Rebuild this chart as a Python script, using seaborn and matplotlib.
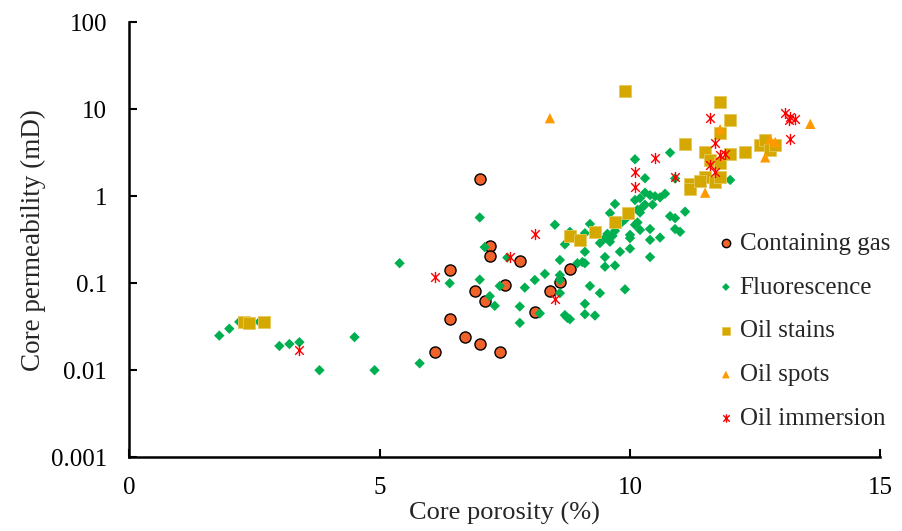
import numpy as np
import pandas as pd
import matplotlib
matplotlib.use("Agg")
import matplotlib.pyplot as plt
from matplotlib.path import Path
import seaborn as sns

# ── Data ─────────────────────────────────────────────────────────────────────

gas_x = [7.0, 7.2, 7.2, 6.4, 7.8, 7.5, 6.9, 7.1, 6.4, 6.7, 7.0, 6.1, 7.4,
         8.8, 8.6, 8.4, 8.1]
gas_y = [1.59, 0.27, 0.204, 0.143, 0.182, 0.095, 0.081, 0.063, 0.039, 0.024,
         0.020, 0.016, 0.016, 0.146, 0.104, 0.082, 0.047]

fluo_x = [1.8, 2.0, 2.2, 2.6, 3.0, 3.2, 3.4, 3.8, 4.5, 4.9, 5.4, 5.8, 6.4,
          7.0, 7.0, 7.1, 7.2, 7.3, 7.4, 7.55, 7.8, 7.8,
          7.9, 8.1, 8.2, 8.3, 8.5, 8.6, 8.6, 8.6, 8.6, 8.7, 8.7, 8.75, 8.8,
          8.8, 8.95, 9.05, 9.1, 9.1, 9.1, 9.1, 9.1, 9.2, 9.2, 9.3, 9.4, 9.4,
          9.5, 9.5, 9.5, 9.55, 9.6, 9.6, 9.65, 9.7, 9.7, 9.7, 9.8, 9.8, 9.9,
          9.9, 10.0, 10.0, 10.0,
          10.1, 10.1, 10.1, 10.15, 10.15, 10.2, 10.2, 10.2, 10.25, 10.3, 10.3,
          10.3, 10.4, 10.4, 10.4, 10.4, 10.45, 10.5, 10.6, 10.6, 10.7, 10.8,
          10.8, 10.9, 10.9, 10.9, 11.0, 11.1, 12.0]
fluo_y = [0.025, 0.030, 0.036, 0.036, 0.019, 0.020, 0.021, 0.010, 0.024,
          0.010, 0.17, 0.012, 0.10,
          0.57, 0.11, 0.26, 0.071, 0.055, 0.093, 0.197, 0.054, 0.035,
          0.089, 0.109, 0.045, 0.128, 0.47, 0.185, 0.124, 0.109, 0.077, 0.28,
          0.043, 0.040, 0.39, 0.0386, 0.17, 0.175, 0.17, 0.376, 0.23, 0.058,
          0.044, 0.48, 0.093, 0.0425, 0.29, 0.077, 0.33, 0.2, 0.155, 0.37,
          0.3, 0.64, 0.35, 0.4, 0.815, 0.16, 0.23, 0.48, 0.54, 0.085, 0.25,
          0.33, 0.36,
          2.66, 0.906, 0.47, 0.7, 0.5, 0.95, 0.65, 0.41, 0.75, 1.61, 1.1, 0.8,
          1.03, 0.42, 0.315, 0.2, 0.8, 1.0, 0.97, 0.335, 1.07, 3.17, 0.59,
          1.6, 0.56, 0.42, 0.39, 0.665, 1.54]

stain_x = [2.3, 2.4, 2.7, 8.8, 9.0, 9.3, 9.7, 9.97, 9.9, 11.1, 11.2, 11.2,
           11.5, 11.5, 11.4, 11.6, 11.7, 11.8, 12.0, 11.8, 11.8, 11.8, 12.0,
           12.3, 12.6, 12.7, 12.8, 12.9]
stain_y = [0.036, 0.035, 0.036, 0.35, 0.31, 0.39, 0.51, 0.64, 16.4, 4.0, 1.4,
           1.2, 3.26, 1.65, 1.5, 2.6, 1.47, 12.0, 7.5, 5.4, 2.4, 1.68, 3.06,
           3.26, 3.9, 4.4, 3.4, 3.9]

spot_x = [8.4, 11.5, 11.8, 12.7, 12.8, 12.9, 13.6]
spot_y = [7.9, 1.1, 5.9, 2.8, 4.5, 4.2, 6.8]

imm_x = [3.4, 6.1, 7.6, 8.1, 8.5, 10.1, 10.1, 10.5, 10.9, 11.6, 11.7, 11.8,
         11.9, 11.6, 11.7, 13.1, 13.2, 13.3, 13.17, 13.2]
imm_y = [0.017, 0.118, 0.2, 0.366, 0.066, 1.92, 1.29, 2.74, 1.65, 7.9, 4.06,
         3.0, 3.1, 2.3, 1.92, 9.0, 8.2, 7.7, 7.5, 4.6]

x_ticks = [0, 5, 10, 15]
y_ticks = [0.001, 0.01, 0.1, 1, 10, 100]
y_tick_labels = ["0.001", "0.01", "0.1", "1", "10", "100"]

# ── Style ────────────────────────────────────────────────────────────────────

sns.set_style("ticks")
plt.rcParams["font.family"] = ["Liberation Serif", "DejaVu Serif"]

# Excel-style asterisk marker: X plus a vertical bar
star = Path(
    [(-1, -1), (1, 1), (-1, 1), (1, -1), (0, -1.3), (0, 1.3)],
    [Path.MOVETO, Path.LINETO, Path.MOVETO, Path.LINETO, Path.MOVETO, Path.LINETO],
)

groups = [
    ("Containing gas", gas_x, gas_y, dict(marker="o", s=64, color="#F0622A",
                                          edgecolor="black", linewidth=1.0)),
    ("Fluorescence", fluo_x, fluo_y, dict(marker="D", s=28, color="#00B050",
                                          edgecolor="none", linewidth=0)),
    ("Oil stains", stain_x, stain_y, dict(marker="s", s=66, color="#D4A800",
                                          edgecolor="#E6C85A", linewidth=0.6)),
    ("Oil spots", spot_x, spot_y, dict(marker="^", s=55, color="#FF9900",
                                       edgecolor="none", linewidth=0)),
    ("Oil immersion", imm_x, imm_y, dict(marker=star, s=65, color="#FF0000",
                                         edgecolor="#FF0000", linewidth=1.0)),
]

fig, ax = plt.subplots(figsize=(9.03, 5.31), dpi=100)
fig.subplots_adjust(left=0.143, right=0.975, top=0.958, bottom=0.139)

for name, xs, ys, kw in groups:
    df = pd.DataFrame({"porosity": xs, "perm": ys})
    sns.scatterplot(data=df, x="porosity", y="perm", ax=ax, label=name, **kw)

ax.set_yscale("log")
ax.set_xlim(0, 15)
ax.set_ylim(0.001, 100)
ax.set_xticks(x_ticks)
ax.set_xticklabels([str(t) for t in x_ticks])
ax.set_yticks(y_ticks)
ax.set_yticklabels(y_tick_labels)
ax.yaxis.set_minor_locator(matplotlib.ticker.NullLocator())

ax.tick_params(axis="both", direction="in", length=6, width=1.5,
               labelsize=18, colors="black")
ax.tick_params(axis="x", pad=14)
ax.tick_params(axis="y", pad=16)
for side in ["left", "bottom"]:
    ax.spines[side].set_linewidth(1.8)
    ax.spines[side].set_color("black")
sns.despine(ax=ax)

ax.set_xlabel("Core porosity (%)", fontsize=19, labelpad=2)
ax.set_ylabel("Core permeability (mD)", fontsize=19.5, labelpad=3)

ax.legend(loc="center left", bbox_to_anchor=(0.766, 0.29), frameon=False,
          fontsize=18, handletextpad=0.1, handlelength=0.9,
          labelspacing=0.85, markerscale=0.75, borderaxespad=0)

plt.savefig("out.png", dpi=100)
plt.close()
